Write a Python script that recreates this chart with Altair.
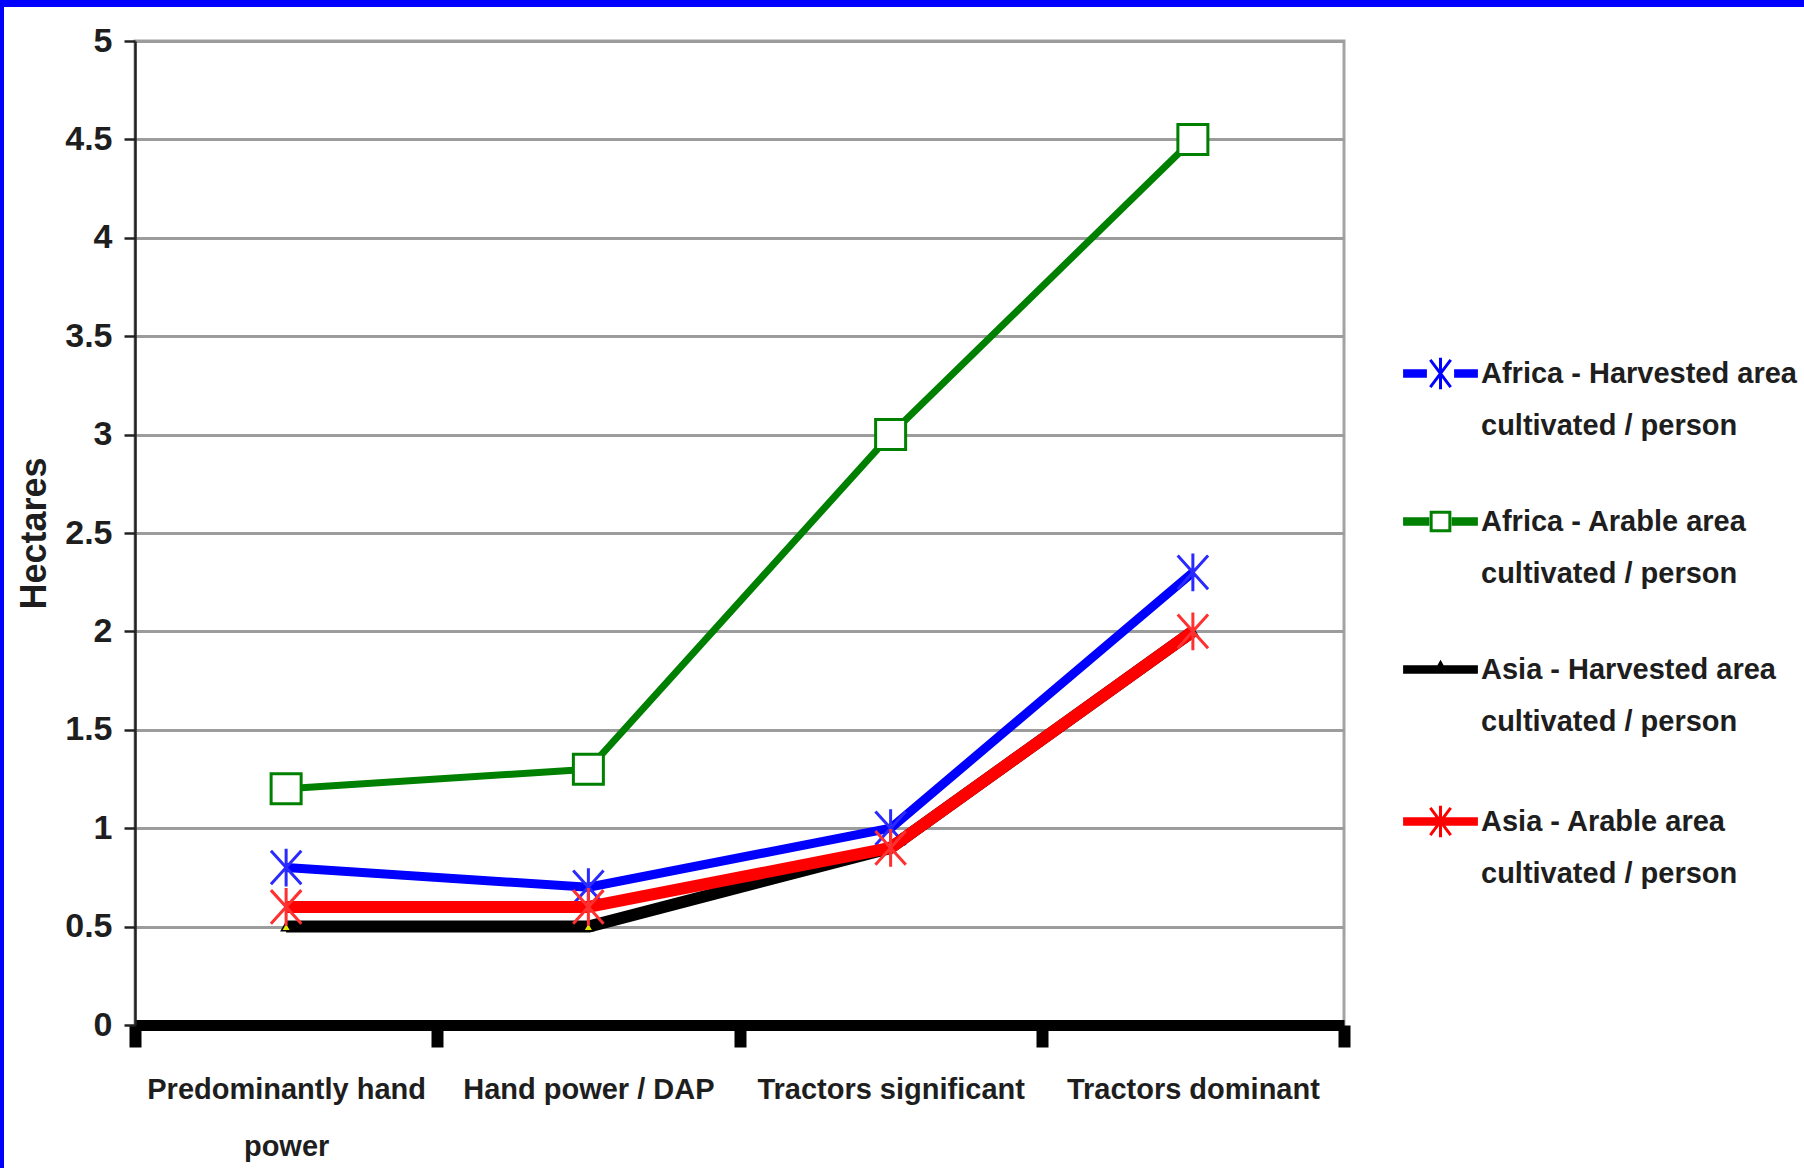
import altair as alt
import pandas as pd

# Farm power level categories (x axis)
categories = [
    "Predominantly hand power",
    "Hand power / DAP",
    "Tractors significant",
    "Tractors dominant",
]

# Series names, in drawing order
series_names = [
    "Africa - Harvested area cultivated / person",
    "Africa - Arable area cultivated / person",
    "Asia - Harvested area cultivated / person",
    "Asia - Arable area cultivated / person",
]

# Hectares per person for each series
africa_harvested = [0.8, 0.7, 1.0, 2.3]
africa_arable = [1.2, 1.3, 3.0, 4.5]
asia_harvested = [0.5, 0.5, 0.9, 2.0]
asia_arable = [0.6, 0.6, 0.9, 2.0]

y_ticks = [0, 0.5, 1, 1.5, 2, 2.5, 3, 3.5, 4, 4.5, 5]

series_values = [africa_harvested, africa_arable, asia_harvested, asia_arable]
line_colors = ["#0000ff", "#008000", "#000000", "#ff0000"]
line_widths = [9, 7, 12, 12]

rows = []
for name, vals in zip(series_names, series_values):
    for cat, v in zip(categories, vals):
        rows.append({"category": cat, "series": name, "hectares": v})
df = pd.DataFrame(rows)

FONT = "Liberation Sans, Arial, sans-serif"
TEXT = "#1e1e1e"

W, H = 1209, 984
PAD = {"left": 135, "top": 41, "right": 460, "bottom": 143}

x_enc = alt.X(
    "category:N",
    sort=categories,
    scale=alt.Scale(type="band", domain=categories, paddingInner=0, paddingOuter=0),
    axis=alt.Axis(
        title=None,
        labelExpr="datum.label == 'Predominantly hand power' ? ['Predominantly hand', 'power'] : datum.label",
        labelFont=FONT,
        labelFontSize=29,
        labelFontWeight="bold",
        labelColor=TEXT,
        labelLineHeight=57,
        labelPadding=28,
        labelLimit=400,
        labelAngle=0,
        domainColor="#000000",
        domainWidth=11,
        tickColor="#000000",
        tickWidth=12,
        tickSize=22,
        tickBand="extent",
        grid=False,
    ),
)
y_enc = alt.Y(
    "hectares:Q",
    scale=alt.Scale(domain=[0, 5], nice=False, zero=True),
    axis=alt.Axis(
        title="Hectares",
        titleFont=FONT,
        titleFontSize=36,
        titleFontWeight="bold",
        titleColor=TEXT,
        titleAngle=270,
        titleAlign="center",
        titleBaseline="middle",
        titleX=-101,
        titleY=H / 2,
        values=y_ticks,
        format="~g",
        labelFont=FONT,
        labelFontSize=34,
        labelFontWeight="bold",
        labelColor=TEXT,
        labelPadding=12,
        domainColor="#222222",
        domainWidth=2.5,
        tickColor="#222222",
        tickWidth=2.5,
        tickSize=11,
        grid=True,
        gridColor="#9c9c9c",
        gridWidth=3,
    ),
)

base = alt.Chart(df).encode(x=x_enc, y=y_enc)

# Marker glyphs (unit paths scaled by the symbol size)
star_path = "M-0.95,-1.05L0.95,1.05M-0.95,1.05L0.95,-1.05M0,-1.18L0,1.18"

lines = []
for i, name in enumerate(series_names):
    lines.append(
        base.transform_filter(alt.datum.series == name).mark_line(
            color=line_colors[i], strokeWidth=line_widths[i], strokeJoin="round"
        )
    )

markers = [
    base.transform_filter(alt.datum.series == series_names[0]).mark_point(
        shape=star_path, size=1024, filled=False, stroke="#2a2aff", strokeWidth=3, opacity=1
    ),
    base.transform_filter(alt.datum.series == series_names[1]).mark_point(
        shape="square", size=900, filled=True, fill="#ffffff", stroke="#008000", strokeWidth=3, opacity=1
    ),
    base.transform_filter(alt.datum.series == series_names[2]).mark_point(
        shape="triangle-up", size=90, filled=True, fill="#e6e600", stroke="#000000", strokeWidth=1.5, opacity=1
    ),
    base.transform_filter(alt.datum.series == series_names[3]).mark_point(
        shape=star_path, size=1024, filled=False, stroke="#ff3030", strokeWidth=3, opacity=1
    ),
]
ordered = []
for ln, mk in zip(lines, markers):
    ordered += [ln, mk]


# Legend glyphs: thick line segments (stacked strokes) with the series marker
def bar(x0, x1):
    return "".join(f"M{x0},{y}L{x1},{y}" for y in (-0.16, -0.06, 0.06, 0.16))


def star(r=0.6, t=0.8):
    return f"M{-r},{-t}L{r},{t}M{-r},{t}L{r},{-t}M0,{-t - 0.12}L0,{t + 0.12}"


legend_paths = [
    bar(-2.2, -0.8) + bar(0.8, 2.2) + star(),
    bar(-2.2, -0.66) + bar(0.66, 2.2) + "M-0.55,-0.55L0.55,-0.55L0.55,0.55L-0.55,0.55Z",
    bar(-2.2, 2.2) + "M0,-0.4L0.28,0.1L-0.28,0.1Z",
    bar(-2.2, 2.2) + star(),
]

legend_cfg = dict(
    title=None,
    orient="none",
    legendX=1287,
    legendY=314,
    padding=0,
    symbolSize=1156,
    symbolStrokeWidth=3,
    symbolOpacity=1,
    symbolOffset=0,
    labelOffset=22,
    labelFont=FONT,
    labelFontSize=29,
    labelFontWeight="bold",
    labelColor=TEXT,
    labelLimit=600,
    labelExpr="[slice(datum.label, 0, indexof(datum.label, ' cultivated')), 'cultivated / person']",
    rowPadding=62,
)

legend_layer = base.transform_filter("false").mark_point(filled=False, strokeWidth=3, opacity=1).encode(
    color=alt.Color(
        "series:N",
        scale=alt.Scale(domain=series_names, range=line_colors),
        legend=alt.Legend(**legend_cfg),
    ),
    shape=alt.Shape(
        "series:N",
        scale=alt.Scale(domain=series_names, range=legend_paths),
        legend=alt.Legend(**legend_cfg),
    ),
)

# Blue frame along the top and left edges of the figure
frame_src = alt.Chart(pd.DataFrame({"edge": ["top", "left"]}))
frame_top = frame_src.transform_filter(alt.datum.edge == "top").mark_rect(color="#0000ff").encode(
    x=alt.value(-PAD["left"]), x2=alt.value(W + PAD["right"]),
    y=alt.value(-PAD["top"]), y2=alt.value(-PAD["top"] + 7),
)
frame_left = frame_src.transform_filter(alt.datum.edge == "left").mark_rect(color="#0000ff").encode(
    x=alt.value(-PAD["left"]), x2=alt.value(-PAD["left"] + 4),
    y=alt.value(-PAD["top"]), y2=alt.value(H + PAD["bottom"]),
)

chart = (
    alt.layer(*ordered, legend_layer, frame_top, frame_left)
    .properties(
        width=W,
        height=H,
        padding=PAD,
        autosize=alt.AutoSizeParams(type="none"),
        background="#ffffff",
    )
    .configure(style={"guide-label": {"lineHeight": 52}})
    .configure_view(stroke="#a3a3a3", strokeWidth=3)
)

chart.save("out.html", embed_options={"renderer": "svg", "actions": False})
